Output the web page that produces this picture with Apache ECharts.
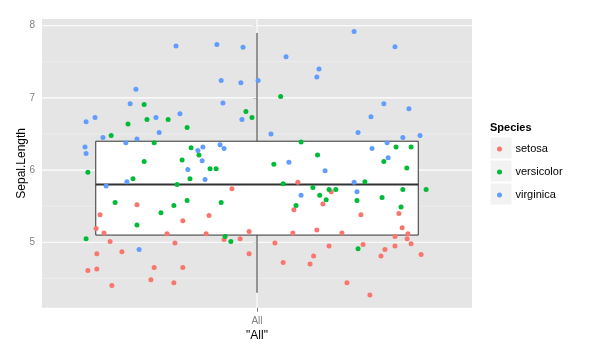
<!DOCTYPE html>
<html>
<head>
<meta charset="utf-8">
<script src="https://cdn.jsdelivr.net/npm/echarts@6/dist/echarts.min.js"></script>
<style>
html,body{margin:0;padding:0;background:#fff;}
#chart{width:595px;height:353px;}
</style>
</head>
<body>
<div id="chart"></div>
<script>
// ---- data (x = horizontal jitter offset around the "All" position, y = Sepal.Length) ----
const categories = ['All'];
const speciesNames = ['setosa', 'versicolor', 'virginica'];

const setosaX = [-0.438,-0.335,-0.207,-0.449,-0.427,-0.251,-0.410,-0.229,-0.377,-0.447,
  -0.472,-0.447,-0.287,-0.207,-0.296,-0.232,-0.405,0.114,-0.070,0.103,
  -0.134,-0.142,-0.022,0.100,0.167,-0.092,-0.047,0.050,-0.022,0.073,
  0.158,0.148,0.207,0.184,0.396,0.290,0.405,0.237,0.421,0.385,
  0.419,0.430,0.201,0.296,0.385,0.357,0.346,0.458,0.251,0.315];
const setosaY = [5.38,5.52,5.30,5.19,5.13,5.12,5.01,4.99,4.87,4.84,
  4.61,4.63,4.65,4.65,4.48,4.44,4.40,5.83,5.74,5.45,
  5.37,5.12,5.15,5.13,5.17,5.04,5.05,4.99,4.84,4.72,
  4.81,4.70,5.70,5.53,5.40,5.38,5.20,5.13,5.12,5.08,
  5.05,4.98,4.95,4.97,4.95,4.90,4.81,4.83,4.44,4.27];

const versicolorX = [-0.315,-0.360,-0.307,-0.248,-0.195,-0.407,-0.287,-0.184,-0.162,-0.209,
  -0.315,0.066,-0.031,-0.014,0.123,0.169,0.388,0.430,0.354,0.047,
  0.418,-0.472,-0.346,-0.187,-0.223,-0.396,-0.195,-0.232,-0.268,-0.335,
  -0.477,-0.131,-0.114,0.073,0.156,0.175,-0.100,0.109,-0.089,-0.073,
  0.301,0.201,0.220,0.407,0.472,0.193,0.279,0.349,0.402,0.282];
const versicolorY = [6.91,6.64,6.70,6.70,6.59,6.48,6.38,6.31,6.21,6.14,
  6.12,7.02,6.81,6.73,6.39,6.21,6.32,6.32,6.12,6.08,
  6.03,5.97,5.88,5.88,5.80,5.55,5.58,5.51,5.41,5.24,
  5.05,6.02,6.02,5.81,5.76,5.65,5.55,5.51,5.08,5.01,
  5.84,5.73,5.73,5.73,5.73,5.59,5.58,5.62,5.49,4.91];

const virginicaX = [-0.226,-0.338,-0.354,-0.477,-0.452,-0.282,-0.215,-0.273,-0.430,-0.335,
  -0.366,-0.480,-0.477,-0.165,-0.112,-0.039,0.081,0.173,0.167,-0.100,
  -0.045,0.003,-0.095,-0.042,0.039,-0.151,-0.103,-0.092,-0.153,0.089,
  0.271,0.385,0.354,0.424,0.318,0.282,0.407,0.455,0.363,0.321,
  0.366,-0.193,-0.363,-0.421,-0.145,0.123,0.190,0.271,0.279,-0.329];
const virginicaY = [7.72,7.12,6.92,6.67,6.73,6.73,6.78,6.52,6.45,6.43,
  6.38,6.32,6.23,6.27,7.74,7.70,7.57,7.40,7.29,7.24,
  7.21,7.24,6.93,6.70,6.50,6.32,6.35,6.30,6.13,6.11,
  7.92,7.71,6.92,6.85,6.74,6.52,6.45,6.48,6.38,6.30,
  6.17,6.01,5.84,5.78,5.87,5.65,5.99,5.83,5.70,4.90];

// boxplot statistics for "All": [lower whisker, Q1, median, Q3, upper whisker]
const boxStats = [4.3, 5.1, 5.8, 6.4, 7.9];

// axis ticks
const yMajorTicks = [5, 6, 7, 8];
const yMinorTicks = [4.5, 5.5, 6.5, 7.5];
const xTicks = [0];

// ---- build ----
const zip = (xs, ys) => xs.map((x, i) => [x, ys[i]]);
const colors = ['#F8766D', '#00BA38', '#619CFF'];
const seriesData = [zip(setosaX, setosaY), zip(versicolorX, versicolorY), zip(virginicaX, virginicaY)];

const chart = echarts.init(document.getElementById('chart'), null, {renderer: 'canvas'});
const font = '"Liberation Sans", Arial, sans-serif';

const hGridData = yMinorTicks.map(v => [0, v, 0]).concat(yMajorTicks.map(v => [0, v, 1]));

const option = {
  animation: false,
  backgroundColor: '#ffffff',
  grid: {
    left: 42, right: 123, top: 19, bottom: 45.3,
    show: true, backgroundColor: '#E5E5E5', borderWidth: 0
  },
  xAxis: {
    type: 'value', min: -0.6, max: 0.6,
    name: '"' + categories[0] + '"', nameLocation: 'middle', nameGap: 22, nameMoveOverlap: false,
    nameTextStyle: {color: '#000', fontSize: 12, fontFamily: font},
    axisLine: {show: false},
    splitLine: {show: false},
    axisTick: {show: true, customValues: xTicks, length: 4, lineStyle: {color: '#7F7F7F', width: 1}},
    axisLabel: {customValues: xTicks, formatter: () => categories[0], color: '#7F7F7F', fontSize: 10, fontFamily: font, margin: 9}
  },
  yAxis: {
    type: 'value', min: 4.094, max: 8.093,
    name: 'Sepal.Length', nameLocation: 'middle', nameGap: 14, nameRotate: 90, nameMoveOverlap: false,
    nameTextStyle: {color: '#000', fontSize: 12, fontFamily: font},
    axisLine: {show: false},
    splitLine: {show: false},
    axisTick: {show: true, customValues: yMajorTicks, length: 4, lineStyle: {color: '#7F7F7F', width: 1}},
    axisLabel: {customValues: yMajorTicks, color: '#7F7F7F', fontSize: 10, fontFamily: font, margin: 7}
  },
  legend: {
    data: speciesNames,
    orient: 'vertical', left: 492, top: 137,
    icon: 'circle', itemWidth: 22, itemHeight: 5, itemGap: 9,
    textStyle: {color: '#000', fontSize: 11, fontFamily: font, lineHeight: 14}
  },
  graphic: [
    {type: 'text', left: 490, top: 122, style: {text: 'Species', font: 'bold 11px ' + font, fill: '#000'}},
    {type: 'rect', shape: {x: 490, y: 137, width: 22, height: 22}, style: {fill: '#F2F2F2', stroke: '#fff', lineWidth: 1}, z: -1},
    {type: 'rect', shape: {x: 490, y: 160, width: 22, height: 22}, style: {fill: '#F2F2F2', stroke: '#fff', lineWidth: 1}, z: -1},
    {type: 'rect', shape: {x: 490, y: 183, width: 22, height: 22}, style: {fill: '#F2F2F2', stroke: '#fff', lineWidth: 1}, z: -1}
  ],
  series: [
    {
      type: 'custom', name: 'hgrid', silent: true, z: 1, clip: false,
      data: hGridData,
      renderItem: (params, api) => {
        const y = api.coord([0, api.value(1)])[1];
        const major = api.value(2) === 1;
        const cs = params.coordSys;
        return {type: 'line', shape: {x1: cs.x, y1: y, x2: cs.x + cs.width, y2: y},
          style: {stroke: major ? '#FFFFFF' : '#F2F2F2', lineWidth: major ? 1.1 : 0.6}};
      }
    },
    {
      type: 'custom', name: 'vgrid', silent: true, z: 1, clip: false,
      data: xTicks.map(v => [v, 6]),
      renderItem: (params, api) => {
        const x = api.coord([api.value(0), 6])[0];
        const cs = params.coordSys;
        return {type: 'line', shape: {x1: x, y1: cs.y, x2: x, y2: cs.y + cs.height},
          style: {stroke: '#FFFFFF', lineWidth: 1.1}};
      }
    },
    {
      type: 'custom', name: 'box', silent: true, z: 2, clip: false,
      data: [[0].concat(boxStats)],
      renderItem: (params, api) => {
        const x = api.value(0);
        const lo = api.value(1), q1 = api.value(2), med = api.value(3), q3 = api.value(4), hi = api.value(5);
        const hw = 0.45;
        const tl = api.coord([x - hw, q3]);
        const br = api.coord([x + hw, q1]);
        const c = api.coord([x, med]);
        const pLo = api.coord([x, lo]);
        const pHi = api.coord([x, hi]);
        const stroke = '#333333';
        return {type: 'group', children: [
          {type: 'line', shape: {x1: c[0], y1: tl[1], x2: c[0], y2: pHi[1]}, style: {stroke, lineWidth: 1}},
          {type: 'line', shape: {x1: c[0], y1: br[1], x2: c[0], y2: pLo[1]}, style: {stroke, lineWidth: 1}},
          {type: 'rect', shape: {x: tl[0], y: tl[1], width: br[0] - tl[0], height: br[1] - tl[1]}, style: {fill: '#FFFFFF', stroke, lineWidth: 1}},
          {type: 'line', shape: {x1: tl[0], y1: c[1], x2: br[0], y2: c[1]}, style: {stroke, lineWidth: 2}}
        ]};
      }
    }
  ].concat(speciesNames.map((name, i) => ({
    type: 'scatter', name, z: 3,
    data: seriesData[i],
    symbol: 'circle', symbolSize: 5,
    itemStyle: {color: colors[i], opacity: 1},
    emphasis: {disabled: true}
  })))
};
chart.setOption(option);
</script>
</body>
</html>
